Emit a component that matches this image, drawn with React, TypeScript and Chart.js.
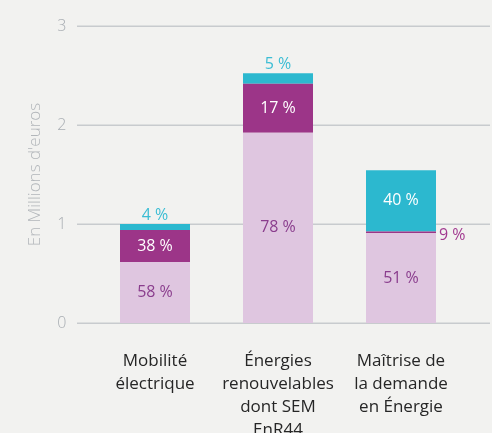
import React, { useEffect, useRef } from "react";
import { Chart, registerables } from "chart.js";
Chart.register(...registerables);

const categories = [
  ["Mobilité", "électrique"],
  ["Énergies", "renouvelables", "dont SEM", "EnR44"],
  ["Maîtrise de", "la demande", "en Énergie"],
];
const baseValues = [0.616, 1.922, 0.909];
const midValues = [0.323, 0.495, 0.015];
const topValues = [0.06, 0.105, 0.62];
const baseLabels = ["58 %", "78 %", "51 %"];
const midLabels = ["38 %", "17 %", "9 %"];
const topLabels = ["4 %", "5 %", "40 %"];
const yMin = 0;
const yMax = 3;
const yStep = 1;
const yTitle = "En Millions d'euros";

const BG = "#f2f2f0";
const FONT = '"Open Sans", "Noto Sans", sans-serif';

const gridPlugin = {
  id: "extGrid",
  beforeDatasetsDraw(chart: any) {
    const ctx = chart.ctx;
    const ys = chart.scales.y;
    ctx.save();
    ctx.strokeStyle = "#c8cbce";
    ctx.lineWidth = 1.5;
    ys.ticks.forEach((t: any) => {
      const py = Math.round(ys.getPixelForValue(t.value)) + 0.25;
      ctx.beginPath();
      ctx.moveTo(77, py);
      ctx.lineTo(490, py);
      ctx.stroke();
    });
    ctx.restore();
  },
};

const labelPlugin = {
  id: "segLabels",
  afterDatasetsDraw(chart: any) {
    const ctx = chart.ctx;
    ctx.save();
    ctx.font = `400 16px ${FONT}`;
    ctx.textBaseline = "middle";
    chart.data.datasets.forEach((ds: any, di: number) => {
      const meta = chart.getDatasetMeta(di);
      meta.data.forEach((bar: any, i: number) => {
        const p = bar.getProps(["x", "y", "base", "width"], true);
        const text = ds.segLabels[i];
        const h = Math.abs(p.base - p.y);
        let tx = p.x;
        let ty = (p.y + p.base) / 2;
        let align: CanvasTextAlign = "center";
        let color = ds.inColor;
        if (h < 20) {
          color = ds.outColor;
          if (di === 2) {
            ty = Math.min(p.y, p.base) - 9;
          } else {
            tx = p.x + p.width / 2 + 3;
            align = "left";
            ty = ty + 3;
          }
        }
        ctx.fillStyle = color;
        ctx.textAlign = align;
        ctx.fillText(text, tx, ty);
      });
    });
    ctx.restore();
  },
};

export default function App() {
  const ref = useRef<HTMLCanvasElement>(null);
  useEffect(() => {
    document.body.style.margin = "0";
    document.body.style.background = BG;
    const chart = new Chart(ref.current!, {
      type: "bar",
      data: {
        labels: categories as any,
        datasets: [
          {
            data: baseValues,
            backgroundColor: "#dfc6e0",
            segLabels: baseLabels,
            inColor: "#8a3d8d",
            outColor: "#8a3d8d",
          } as any,
          {
            data: midValues,
            backgroundColor: "#9c3588",
            segLabels: midLabels,
            inColor: "#ffffff",
            outColor: "#a23a90",
          } as any,
          {
            data: topValues,
            backgroundColor: "#2cb8cf",
            segLabels: topLabels,
            inColor: "#ffffff",
            outColor: "#3bbdd4",
          } as any,
        ],
      },
      options: {
        animation: false,
        responsive: false,
        maintainAspectRatio: false,
        layout: { padding: { top: 26, right: 29.5, left: 0, bottom: 0 } },
        datasets: {
          bar: { categoryPercentage: 1, barPercentage: 70 / 123 },
        },
        plugins: {
          legend: { display: false },
          tooltip: { enabled: false },
        },
        scales: {
          x: {
            stacked: true,
            grid: { display: false, drawTicks: false },
            border: { display: false },
            ticks: {
              autoSkip: false,
              maxRotation: 0,
              minRotation: 0,
              padding: 27,
              color: "#262626",
              font: { family: FONT, size: 17, lineHeight: 23 / 17 },
            },
            afterFit(scale: any) {
              scale.height = 110;
            },
          },
          y: {
            stacked: true,
            min: yMin,
            max: yMax,
            grid: { display: false, drawTicks: false },
            border: { display: false },
            ticks: {
              stepSize: yStep,
              padding: 27,
              color: "#a9aeb3",
              font: { family: FONT, size: 16, weight: "300" as any },
            },
            title: {
              display: true,
              text: yTitle,
              color: "#b2b6ba",
              font: { family: FONT, size: 17, weight: "300" as any, lineHeight: 1.2 },
              padding: { top: 25, bottom: 0 },
            },
            afterFit(scale: any) {
              scale.width = 93.5;
              scale.paddingTop = 0;
              scale.paddingBottom = 0;
            },
          },
        },
      },
      plugins: [gridPlugin, labelPlugin],
    });
    return () => chart.destroy();
  }, []);
  return (
    <div
      style={{
        position: "absolute",
        left: 0,
        top: 0,
        width: 492,
        height: 433,
        background: BG,
        overflow: "hidden",
      }}
    >
      <canvas ref={ref} width={492} height={433} style={{ display: "block" }} />
    </div>
  );
}
